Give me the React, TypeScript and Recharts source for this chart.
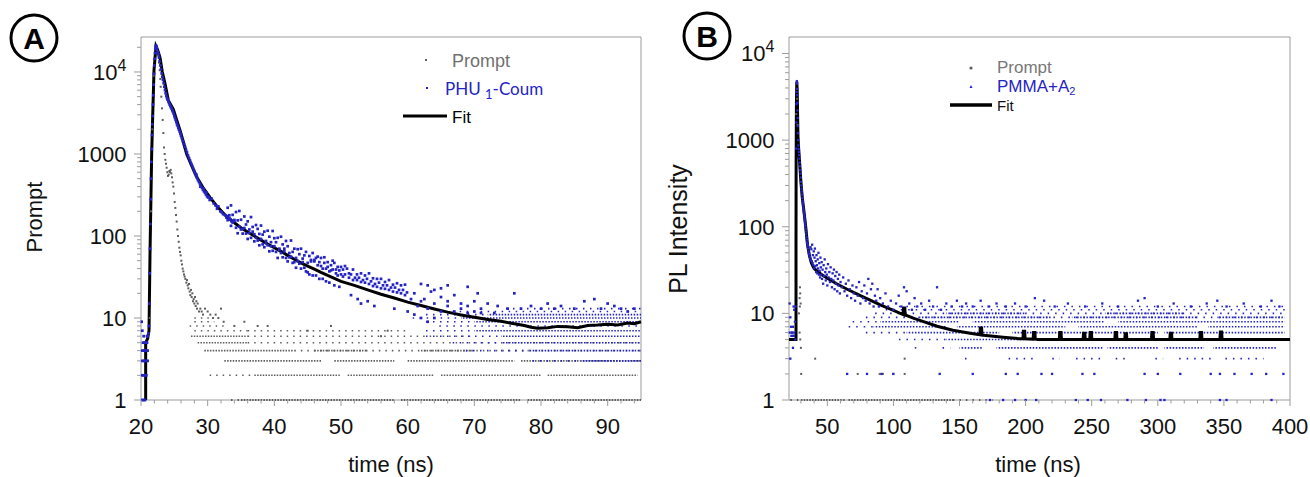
import React from "react";
import { ComposedChart, XAxis, YAxis, Scatter, Line, ReferenceArea } from "recharts";

type Pt = [number, number];
type Row = [number, number, number]; // count level, from time, to time

const FONT = '"Liberation Sans", Arial, sans-serif';
const BLUE = "#2424c4";
const GRAY = "#5e5e5e";
const AXIS = "#9c9c9c";

// log axis ticks (majors get a label)
const logTicks = [
  1, 2, 3, 4, 5, 6, 7, 8, 9, 10, 20, 30, 40, 50, 60, 70, 80, 90, 100, 200, 300, 400, 500, 600, 700, 800, 900,
  1000, 2000, 3000, 4000, 5000, 6000, 7000, 8000, 9000, 10000, 20000,
];
const aTimeTicks = [20, 22, 24, 26, 28, 30, 32, 34, 36, 38, 40, 42, 44, 46, 48, 50, 52, 54, 56, 58, 60, 62, 64, 66, 68, 70, 72, 74, 76, 78, 80, 82, 84, 86, 88, 90, 92, 94];
const bTimeTicks = [30, 40, 50, 60, 70, 80, 90, 100, 110, 120, 130, 140, 150, 160, 170, 180, 190, 200, 210, 220, 230, 240, 250, 260, 270, 280, 290, 300, 310, 320, 330, 340, 350, 360, 370, 380, 390, 400];

// ---------- panel A : PHU1-Coum ----------
const aFit: Pt[] = [
  [20.7, 1], [20.7, 5], [21.0, 5.6], [21.2, 7], [21.35, 60], [21.6, 1000], [21.75, 2800], [21.95, 10500],
  [22.25, 20500], [22.5, 18500], [22.85, 15000], [23.2, 10000], [23.6, 7200], [24.1, 4500], [24.85, 3500],
  [25.35, 2600], [25.85, 1950], [26.35, 1400], [26.85, 1000], [27.6, 720], [28.35, 525], [29.3, 390],
  [30.35, 295], [31.5, 225], [32.85, 172], [34, 145], [35, 126], [36, 112], [37, 100], [38, 89], [39, 80],
  [40, 72], [41, 65], [42, 58], [43, 52], [44, 47], [45, 43], [46, 39.5], [47, 36], [48, 33], [49, 30.5],
  [50, 28], [52, 25], [54, 22], [56, 19.5], [58, 17.5], [60, 15.6], [62, 14.2], [64, 12.9], [66, 11.8],
  [68, 10.9], [70, 10.2], [72, 9.6], [74, 9.1], [76, 8.5], [77.5, 8.1], [78.5, 7.7], [79.5, 7.5], [81, 7.6],
  [82.5, 7.9], [84, 7.8], [85.5, 7.6], [87, 8.1], [88.5, 8.2], [90, 8.4], [91.5, 8.2], [93, 8.7], [94, 8.5], [95, 9],
];

const aCoumPoints: Pt[] = [
  [20.2, 1], [20.4, 1], [20.6, 1], [20.2, 2], [20.4, 2], [20.6, 2], [20.8, 2], [20.2, 3], [20.4, 3], [20.6, 3],
  [20.8, 3], [21.0, 3], [20.2, 4], [20.4, 4], [20.6, 4], [20.8, 4], [21.0, 4], [20.3, 5], [20.5, 5], [20.7, 5],
  [20.9, 5], [20.2, 7], [20.4, 6], [20.1, 9], [20.9, 6], [21.0, 6], [21.1, 6.5], [21.2, 8], [21.25, 15],
  [21.3, 35], [21.35, 70], [21.4, 140], [21.45, 280], [21.5, 500], [21.55, 800], [21.6, 1150], [21.65, 1700],
  [21.7, 2300], [21.75, 2900], [21.8, 4000], [21.85, 5200], [21.9, 7000], [21.95, 9500], [22.0, 12000],
  [22.05, 14500], [22.1, 17000], [22.15, 19000], [22.2, 20500], [22.25, 21000], [22.3, 20500], [22.35, 19800],
  [22.4, 19000], [22.5, 17500], [22.6, 16500], [22.7, 15000], [22.8, 13500], [22.9, 12000], [23.0, 10800],
  [23.1, 9600], [23.2, 8700], [23.3, 8000], [23.4, 7300], [23.5, 6600], [23.6, 6000], [23.7, 5500], [23.8, 5100],
  [23.9, 4800], [24.0, 4600], [24.1, 4400], [24.2, 4200], [24.3, 4000], [24.4, 3850], [24.5, 3700], [24.6, 3550],
  [24.7, 3400], [24.8, 3250], [24.9, 3100], [25.0, 2900], [25.1, 2750], [25.2, 2600], [25.3, 2450], [25.4, 2300],
  [25.5, 2200], [25.6, 2080], [25.7, 1980], [25.8, 1880], [25.9, 1780], [26.0, 1680], [26.15, 1550], [26.3, 1430],
  [26.45, 1320], [26.6, 1220], [26.75, 1120], [26.9, 1040], [27.05, 960], [27.2, 890], [27.35, 830], [27.5, 770],
  [27.65, 720], [27.8, 670], [27.95, 625], [28.1, 585], [28.25, 550], [28.4, 515], [28.55, 480], [28.7, 455],
  [28.85, 430], [29.0, 405], [29.15, 385], [29.3, 365], [29.45, 350], [29.6, 335], [29.75, 320], [29.9, 305],
  [30.05, 295], [30.2, 300], [28.3, 560], [28.9, 400], [29.4, 380], [29.8, 340], [30.3, 275], [30.6, 285],
  [30.9, 250], [31.2, 235], [31.4, 215], [31.6, 230], [31.9, 200], [32.1, 195], [32.3, 185], [32.6, 180],
  [32.8, 168], [33.0, 175], [33.2, 158], [33.4, 160], [33.6, 150], [33.8, 152],
  // noisy cloud 33-60 ns
  [33.0, 221], [33.0, 156], [33.25, 179], [33.25, 166], [33.5, 236], [33.5, 133], [33.75, 181], [33.75, 146],
  [34.0, 152], [34.0, 157], [34.25, 196], [34.25, 126], [34.5, 155], [34.5, 108], [34.75, 202], [34.75, 130],
  [35.0, 158], [35.0, 120], [35.25, 122], [35.25, 107], [35.5, 173], [35.5, 125], [35.75, 138], [35.75, 107],
  [36.0, 151], [36.0, 92], [36.25, 120], [36.25, 109], [36.5, 170], [36.5, 95], [36.75, 129], [36.75, 113],
  [37.0, 105], [37.0, 86], [37.25, 136], [37.25, 95], [37.5, 122], [37.5, 88], [37.75, 106], [37.75, 77],
  [38.0, 134], [38.0, 92], [38.25, 104], [38.25, 79], [38.5, 113], [38.5, 73], [38.75, 82], [38.75, 87],
  [39.0, 116], [39.0, 77], [39.25, 98], [39.25, 65], [39.5, 84], [39.5, 75], [39.75, 115], [39.75, 66],
  [40.0, 94], [40.0, 75], [40.25, 84], [40.25, 64], [40.5, 95], [40.5, 54], [40.75, 70], [40.75, 68],
  [41.0, 98], [41.0, 62], [41.25, 79], [41.25, 55], [41.5, 70], [41.5, 65], [41.75, 87], [41.75, 54],
  [42.0, 75], [42.0, 49], [42.25, 62], [42.25, 55], [42.5, 88], [42.5, 56], [42.75, 64], [42.75, 47],
  [43.0, 70], [43.0, 48], [43.25, 54], [43.25, 41], [43.5, 69], [43.5, 49.5], [43.75, 60], [43.75, 46],
  [44.0, 70], [44.0, 40], [44.25, 53], [44.25, 48], [44.5, 58], [44.5, 41], [44.75, 64], [44.75, 37],
  [45.0, 47], [45.0, 36], [45.25, 57], [45.25, 34], [45.5, 49], [45.5, 51], [45.75, 62], [45.75, 33],
  [46.0, 49], [46.0, 51], [46.25, 54], [46.25, 33], [46.5, 44], [46.5, 56], [46.75, 48], [46.75, 30],
  [47.0, 54], [47.0, 43], [47.25, 40], [47.25, 30], [47.5, 47], [47.5, 55], [47.75, 40], [47.75, 28],
  [48.0, 48], [48.0, 42], [48.25, 37], [48.25, 27], [48.5, 44], [48.5, 38], [48.75, 39], [48.75, 50],
  [49.0, 47], [49.0, 25], [49.25, 39], [49.25, 35], [49.5, 33], [49.5, 42], [49.75, 38], [49.75, 24],
  [50.0, 34], [50.0, 42], [50.3, 39], [50.3, 32], [50.6, 34], [50.6, 43], [50.9, 40], [51.2, 31], [51.2, 35],
  [51.5, 34], [51.8, 39], [51.8, 29], [52.1, 31], [52.4, 34], [52.4, 29], [52.7, 31], [53.0, 35], [53.0, 27.5],
  [53.3, 29], [53.6, 33], [53.6, 27], [53.9, 30], [54.2, 35], [54.2, 26], [54.5, 28], [54.8, 30.5], [54.8, 24.5],
  [55.1, 26], [55.4, 30], [55.4, 24], [55.7, 27], [56.0, 30], [56.0, 23], [56.3, 25], [56.6, 27.5], [56.6, 22.7],
  [56.9, 25], [57.2, 29], [57.2, 22], [57.5, 23.5], [57.8, 25.5], [57.8, 21], [58.1, 23.5], [58.4, 26.5],
  [58.4, 20.5], [58.7, 22], [59.0, 25], [59.0, 20], [59.3, 22], [59.6, 25.5], [59.6, 19], [59.9, 20.5],
  [51.5, 19], [52.5, 17], [53.0, 15], [54.0, 16], [55.0, 14], [58.0, 13], [60.0, 12], [61.0, 11], [62.0, 10],
  [63.0, 9], [64.0, 10], [62.0, 26], [63.0, 25], [64.0, 22], [66.0, 25], [65.0, 23], [69.0, 24], [70.5, 20],
  [61.0, 20], [62.5, 17], [63.5, 21], [65.0, 18], [66.0, 16], [67.0, 19], [68.0, 15], [69.0, 14], [70.0, 16],
  [71.0, 13], [72.0, 15], [73.5, 14], [75.0, 13], [76.0, 20], [77.0, 13], [78.5, 14], [80.0, 13], [81.0, 15],
  [82.0, 13], [83.0, 14], [85.0, 13], [86.5, 16], [88.0, 17], [89.0, 13], [90.0, 15], [91.0, 14], [92.0, 13],
  [93.0, 12], [94.0, 13], [60.5, 17], [61.5, 14], [62.0, 16], [63.0, 13], [64.0, 15], [65.0, 12], [66.0, 14],
  [67.0, 12], [68.0, 13], [69.0, 11.5], [70.0, 12], [71.0, 11.5], [73.0, 11.5],
];

const aCoumRowsDense: Row[] = [
  [11, 72, 95], [10, 68, 95], [9, 70, 95], [7, 70, 95], [6, 74, 95], [5, 74, 95], [4, 78, 95], [3, 86, 95],
];
const aCoumRowsSparse: Row[] = [
  [13, 74, 95], [12, 66, 95], [11, 62, 72], [10, 60, 68], [9, 62, 70], [8, 64, 95], [7, 62, 70], [6, 62, 74],
  [5, 66, 74], [4, 68, 78], [3, 78, 86],
];

const aPromptPoints: Pt[] = [
  [21.3, 10], [21.5, 200], [21.7, 2000], [21.9, 9000], [22.1, 17000], [22.25, 20000], [22.4, 18500],
  [22.5, 17000], [22.6, 15800], [22.7, 13000], [22.8, 10500], [22.9, 8200], [22.95, 6600], [23.05, 5000],
  [23.15, 3600], [23.25, 2600], [23.35, 1800], [23.45, 1200], [23.55, 1000], [23.65, 850], [23.75, 760],
  [23.85, 680], [23.95, 600], [24.05, 540], [24.15, 560], [24.25, 620], [24.35, 600], [24.45, 640], [24.55, 580],
  [24.65, 520], [24.75, 450], [24.85, 400], [24.95, 330], [25.05, 260], [25.15, 220], [25.25, 180], [25.35, 150],
  [25.45, 120], [25.55, 100], [25.65, 85], [25.75, 72], [25.85, 64], [25.95, 58], [26.05, 50], [26.15, 45],
  [26.25, 40], [26.35, 37], [26.45, 34], [26.55, 32], [26.65, 30], [26.8, 27], [26.9, 29], [27.0, 25],
  [27.1, 23], [27.2, 26], [27.3, 21], [27.4, 19], [27.5, 22], [27.6, 18], [27.7, 20], [27.8, 16], [27.9, 17],
  [28.0, 15], [28.1, 18], [28.2, 14], [28.3, 16], [28.4, 13], [28.5, 15], [28.7, 12], [28.9, 13], [29.1, 12],
  [29.3, 11], [29.6, 13], [30.0, 12], [30.4, 11], [30.8, 10], [31.2, 11], [31.6, 10], [32.0, 13], [32.4, 9],
  [34.0, 8], [35.5, 9], [37.5, 8], [39.0, 8], [45, 7], [48.5, 8], [56, 6], [57, 7],
];
const aPromptRowsDense: Row[] = [
  [1, 35, 58], [1, 59, 77], [1, 78, 95], [2, 37, 50], [2, 51, 64], [2, 65, 80], [2, 81, 94.5],
  [3, 32.5, 47], [3, 49, 58], [3, 60, 76], [3, 77, 95], [4, 29.5, 43], [4, 46, 54], [4, 62, 70],
  [5, 28.5, 36], [6, 27.5, 36],
];
const aPromptRowsSparse: Row[] = [
  [1, 33.5, 35], [2, 30.3, 37], [4, 43, 95], [5, 36, 95], [6, 36, 70], [7, 28, 36], [7, 36, 60],
  [8, 27.3, 33], [9, 28, 31], [10, 28, 30.5],
];

// ---------- panel B : PMMA+A2 ----------
const bFit: Pt[] = [
  [21, 5], [26.3, 5], [26.3, 60], [26.4, 600], [26.6, 2500], [26.9, 4700], [27.2, 3800], [27.5, 2000],
  [27.8, 1100], [28.3, 800], [29, 560], [30, 330], [31, 220], [32, 165], [33.5, 105], [35, 62], [36.5, 46],
  [38, 38], [40, 33], [45, 28.5], [50, 25.5], [57, 22], [65, 19], [75, 16], [82, 14.3], [90, 12.5],
  [100, 10.8], [107.3, 9.7], [107.6, 11.5], [108.6, 11.5], [108.9, 9.6], [115, 8.8], [120, 8.3], [133, 7.1],
  [145, 6.4], [158, 5.9], [165.4, 5.65], [165.7, 6.8], [166.7, 6.8], [167, 5.6], [170, 5.55], [183, 5.3],
  [195, 5.1], [198, 5.1], [198.3, 6.2], [199.3, 6.2], [199.6, 5.1], [205.7, 5.05], [206, 6], [207, 6],
  [207.3, 5.05], [209, 5.0], [225.5, 5], [225.8, 6], [226.8, 6], [227.1, 5], [243.5, 5], [243.8, 5.9],
  [244.8, 5.9], [245.1, 5], [248.5, 5], [248.8, 6], [249.8, 6], [250.1, 5], [267.5, 5], [267.8, 6],
  [268.8, 6], [269.1, 5], [275, 5], [275.3, 5.8], [276.3, 5.8], [276.6, 5], [295.2, 5], [295.5, 6],
  [296.5, 6], [296.8, 5], [309.1, 5], [309.4, 5.9], [310.4, 5.9], [310.7, 5], [331.8, 5], [332.1, 6],
  [333.1, 6], [333.4, 5], [347, 5], [347.3, 6.1], [348.3, 6.1], [348.6, 5], [400, 5],
];

const bSamplePoints: Pt[] = [
  [21.5, 13], [22, 9], [22.5, 7], [23, 6], [23.5, 6], [24, 7], [24.5, 12], [25, 11], [25.5, 8], [22, 3],
  [24, 4], [21.5, 6], [25, 6], [22.8, 5.5], [23.8, 5.5], [24.8, 5.5], [25.8, 5], [26, 12],
  [26.45, 800], [26.55, 1600], [26.65, 2600], [26.75, 3600], [26.85, 4500], [26.95, 4800], [27.05, 4500],
  [27.15, 3900], [27.25, 3300], [27.35, 2700], [27.45, 2200], [27.55, 1800], [27.65, 1450], [27.75, 1200],
  [27.9, 1000], [28.1, 870], [28.3, 790], [28.5, 730], [28.7, 670], [28.9, 610], [29.1, 550], [29.3, 500],
  [29.5, 450], [29.7, 410], [29.9, 370], [30.1, 330], [30.3, 300], [30.5, 275], [30.7, 255], [30.9, 235],
  [31.1, 215], [31.3, 200], [31.5, 188], [31.7, 176], [31.9, 165], [32.1, 155], [32.3, 146], [32.5, 138],
  [32.7, 130], [32.9, 122], [33.1, 115], [33.3, 108], [33.5, 102], [33.7, 95], [33.9, 88], [34.1, 82],
  [34.3, 76], [34.5, 71], [34.7, 66], [34.9, 63], [35.2, 60], [35.5, 56], [35.8, 52], [36.1, 49], [36.4, 47],
  [36.7, 45], [37.0, 43], [37.3, 58], [37.6, 41], [37.9, 55], [38.2, 40], [38.5, 62], [38.8, 38],
  [39.1, 47], [39.4, 36], [39.7, 52], [40.0, 33], [40.3, 44], [40.6, 56], [40.9, 35], [41.2, 40], [41.5, 30],
  [41.8, 47], [42.1, 36], [42.4, 29], [42.7, 42], [43.0, 33], [43.3, 50], [43.6, 28], [43.9, 38], [44.2, 31],
  [44.5, 26], [44.8, 44], [45.1, 34], [45.4, 28], [45.7, 39], [46.0, 25], [46.4, 32], [46.8, 22], [47.2, 36],
  [47.6, 27], [48.0, 42], [48.4, 30], [48.8, 24], [49.2, 33], [49.6, 28], [50.0, 21], [50.5, 37], [51.0, 26],
  [51.5, 30], [52.0, 23], [52.5, 34], [53.0, 25], [53.5, 20], [54.0, 29], [54.5, 24], [55.0, 32], [55.5, 19],
  [56.0, 27], [56.5, 22], [57.0, 30], [57.5, 18], [58.0, 25], [58.5, 21], [59.0, 28], [59.5, 17], [60.0, 23],
  [61, 20], [62, 26], [63, 18], [64, 22], [65, 16], [66, 24], [67, 19], [68, 15], [69, 21], [70, 17], [71, 14],
  [72, 20], [73, 16], [74, 23], [75, 13], [76, 18], [77, 15], [78, 21], [79, 14], [80, 17], [81, 25], [82, 13],
  [83, 19], [84, 22], [85, 12], [86, 16], [87, 14], [88, 19], [89, 12], [90, 15], [92, 13], [94, 17], [96, 12],
  [98, 14], [100, 11], [102, 13], [104, 16], [106, 12], [108, 20], [110, 18], [112, 13], [114, 11], [116, 15],
  [118, 12], [121, 13], [124, 11], [127, 14], [130, 12], [133, 20], [136, 11], [140, 13], [144, 12], [148, 14],
  [152, 12], [155, 13], [160, 12], [166, 14], [172, 12], [178, 13], [185, 12], [192, 13], [200, 12], [207, 15],
  [214, 14], [222, 12], [232, 13], [245, 12], [258, 13], [270, 12], [285, 14], [290, 15], [300, 12], [312, 13],
  [325, 12], [337, 13], [345, 14], [352, 12], [365, 13], [378, 12], [386, 14], [392, 12],
  [65, 2], [80, 2], [91, 2], [100, 2], [135, 2], [160, 2], [185, 2], [194, 2], [212, 2], [220, 2], [243, 2],
  [252, 2], [290, 2], [300, 2], [317, 2], [340, 2], [347, 2], [358, 2], [371, 2], [382, 2], [395, 2],
  [173, 1], [183, 1], [192, 1], [200, 1], [208, 1], [238, 1], [247, 1], [257, 1], [277, 1], [291, 1],
  [302, 1], [305, 1], [347, 1], [352, 1], [386, 1],
];
const bSampleRowsDense: Row[] = [
  [8, 90, 150], [8, 160, 260], [8, 270, 396], [7, 85, 140], [7, 148, 230], [7, 240, 330], [7, 338, 396],
  [6, 110, 180], [6, 190, 300], [6, 305, 396], [5, 140, 396], [4, 150, 168], [4, 178, 258], [4, 262, 300],
  [4, 305, 335], [4, 342, 390], [9, 120, 220], [9, 235, 330], [9, 345, 396], [10, 140, 200], [10, 260, 320],
];
const bSampleRowsSparse: Row[] = [
  [12, 100, 396], [11, 90, 396], [10, 82, 396], [9, 75, 396], [8, 65, 90], [7, 62, 85], [6, 75, 110],
  [5, 100, 140], [4, 112, 120], [4, 133, 143], [3, 150, 158], [3, 167, 171], [3, 183, 206], [3, 216, 226],
  [3, 234, 259], [3, 264, 279], [3, 294, 304], [3, 312, 342], [3, 347, 380],
];

const bPromptPoints: Pt[] = [
  [26.5, 2000], [26.8, 4600], [27.1, 3000], [27.5, 1500], [28.5, 10], [29, 15], [29.2, 12], [29.5, 17],
  [29.8, 13], [29.3, 20], [29, 6], [29.5, 5], [30, 4], [30.2, 2], [40.8, 3], [73, 2], [89.6, 2], [92, 2],
  [99.7, 2], [108.5, 2], [108.5, 3],
];
const bPromptRowsDense: Row[] = [[1, 30, 62], [1, 66, 145]];
const bPromptRowsSparse: Row[] = [[1, 22, 30], [1, 62, 66], [1, 145, 175]];

const toXY = (pts: Pt[]) => pts.map(([x, y]) => ({ x, y }));

const square = (fill: string, s: number) => (p: any) =>
  p.cx == null ? <g /> : <rect x={p.cx - s / 2} y={p.cy - s / 2} width={s} height={s} fill={fill} />;

function rowLines(rows: Row[], color: string, dash: string, offset: number, key: string) {
  return rows.map(([lvl, from, to], i) => (
    <Line
      key={key + i}
      data={[{ x: from, y: lvl }, { x: to, y: lvl }]}
      dataKey="y"
      type="linear"
      stroke={color}
      strokeWidth={lvl === 1 ? 2.2 : 1.6}
      strokeDasharray={dash}
      strokeDashoffset={offset}
      dot={false}
      activeDot={false}
      isAnimationActive={false}
    />
  ));
}

const YTick = (props: any) => {
  const { x, y, payload } = props;
  const v = payload.value as number;
  const lg = Math.log10(v);
  const major = Math.abs(lg - Math.round(lg)) < 1e-9;
  return (
    <g>
      <line x1={x} x2={x - (major ? 7 : 4)} y1={y} y2={y} stroke={AXIS} strokeWidth={1} />
      {major && (
        <text x={x - 14.5} y={y + 8} textAnchor="end" fontSize={22} fontFamily={FONT} fill="#111">
          {v >= 10000 ? (
            <>
              10<tspan dy={-9} fontSize={16}>4</tspan>
            </>
          ) : (
            v
          )}
        </text>
      )}
    </g>
  );
};

const makeXTick = (step: number) => (props: any) => {
  const { x, y, payload } = props;
  const v = payload.value as number;
  const major = v % step === 0;
  return (
    <g>
      <line x1={x} x2={x} y1={y} y2={y + (major ? 6 : 3.5)} stroke={AXIS} strokeWidth={1} />
      {major && (
        <text x={x} y={y + 33.5} textAnchor="middle" fontSize={22} fontFamily={FONT} fill="#111">
          {v}
        </text>
      )}
    </g>
  );
};

function DecayPanel(props: {
  width: number;
  margin: { top: number; right: number; bottom: number; left: number };
  xDomain: [number, number];
  yMax: number;
  xTicks: number[];
  xStep: number;
  fit: Pt[];
  sample: Pt[];
  prompt: Pt[];
  rows: React.ReactNode[];
  sampleSize: number;
}) {
  const { width, margin, xDomain, yMax, xTicks, xStep } = props;
  return (
    <ComposedChart width={width} height={477} margin={margin}>
      <XAxis
        type="number"
        dataKey="x"
        domain={xDomain}
        ticks={xTicks}
        interval={0}
        height={30}
        tickSize={0}
        tickMargin={0}
        tickLine={false}
        axisLine={false}
        tick={makeXTick(xStep)}
      />
      <YAxis
        type="number"
        dataKey="y"
        scale="log"
        domain={[1, yMax]}
        ticks={logTicks.filter((t) => t <= yMax)}
        interval={0}
        width={60}
        tickSize={0}
        tickMargin={0}
        tickLine={false}
        axisLine={false}
        tick={YTick}
      />
      <ReferenceArea x1={xDomain[0]} x2={xDomain[1]} y1={1} y2={yMax} fill="none" stroke={AXIS} strokeWidth={1} ifOverflow="visible" />
      {props.rows}
      <Line
        data={toXY(props.fit)}
        dataKey="y"
        type="linear"
        stroke="#000"
        strokeWidth={3}
        dot={false}
        activeDot={false}
        isAnimationActive={false}
      />
      <Scatter data={toXY(props.prompt)} dataKey="y" shape={square(GRAY, 2)} isAnimationActive={false} />
      <Scatter data={toXY(props.sample)} dataKey="y" shape={square(BLUE, props.sampleSize)} isAnimationActive={false} />
    </ComposedChart>
  );
}

export default function App() {
  const aRows = [
    ...rowLines(aPromptRowsDense, GRAY, "1.5 1.3", 0, "apd"),
    ...rowLines(aPromptRowsSparse, GRAY, "1.5 5", 0, "aps"),
    ...rowLines(aCoumRowsDense, BLUE, "1.5 1.5", 1, "acd"),
    ...rowLines(aCoumRowsSparse, BLUE, "1.5 5.5", 2, "acs"),
  ];
  const bRows = [
    ...rowLines(bPromptRowsDense, GRAY, "1.5 1.3", 0, "bpd"),
    ...rowLines(bPromptRowsSparse, GRAY, "1.5 5", 0, "bps"),
    ...rowLines(bSampleRowsDense, BLUE, "1.5 1.6", 1, "bsd"),
    ...rowLines(bSampleRowsSparse, BLUE, "1.5 6", 2, "bss"),
  ];
  return (
    <div style={{ position: "absolute", left: 0, top: 0, width: 1310, height: 477, background: "#fff", fontFamily: FONT }}>
      <div style={{ position: "absolute", left: 0, top: 0 }}>
        <DecayPanel
          width={660}
          margin={{ top: 37, right: 19, bottom: 47, left: 81 }}
          xDomain={[20, 95]}
          yMax={26700}
          xTicks={aTimeTicks}
          xStep={10}
          fit={aFit}
          sample={aCoumPoints}
          prompt={aPromptPoints}
          rows={aRows}
          sampleSize={2.7}
        />
      </div>
      <div style={{ position: "absolute", left: 660, top: 0 }}>
        <DecayPanel
          width={650}
          margin={{ top: 37, right: 20, bottom: 47, left: 69 }}
          xDomain={[21, 400]}
          yMax={15500}
          xTicks={bTimeTicks}
          xStep={50}
          fit={bFit}
          sample={bSamplePoints}
          prompt={bPromptPoints}
          rows={bRows}
          sampleSize={2.3}
        />
      </div>
      <svg width={1310} height={477} style={{ position: "absolute", left: 0, top: 0, pointerEvents: "none" }}>
        {/* panel badges */}
        <circle cx={34} cy={38} r={23} fill="none" stroke="#000" strokeWidth={3} />
        <text x={34} y={49} textAnchor="middle" fontSize={30} fontWeight="bold" fontFamily={FONT}>A</text>
        <circle cx={707} cy={36} r={23} fill="none" stroke="#000" strokeWidth={3} />
        <text x={707} y={47} textAnchor="middle" fontSize={30} fontWeight="bold" fontFamily={FONT}>B</text>

        {/* axis titles */}
        <text transform="translate(42,217) rotate(-90)" textAnchor="middle" fontSize={22} fontFamily={FONT} fill="#111">Prompt</text>
        <text x={391} y={472} textAnchor="middle" fontSize={22} fontFamily={FONT} fill="#111">time (ns)</text>
        <text transform="translate(687,229) rotate(-90)" textAnchor="middle" fontSize={25} fontFamily={FONT} fill="#111">PL Intensity</text>
        <text x={1038} y={472} textAnchor="middle" fontSize={22} fontFamily={FONT} fill="#111">time (ns)</text>

        {/* legend A */}
        <rect x={425} y={59} width={2} height={2} fill={GRAY} />
        <text x={452} y={66.5} fontSize={18} fontFamily={FONT} fill="#707070">Prompt</text>
        <rect x={426} y={87} width={2} height={2} fill={BLUE} />
        <text x={445} y={95} fontSize={17} fontFamily="Lato, sans-serif" fill={BLUE}>
          PHU <tspan dy={4} fontSize={13}>1</tspan><tspan dy={-4}>-Coum</tspan>
        </text>
        <line x1={403} x2={447} y1={116} y2={116} stroke="#000" strokeWidth={3} />
        <text x={452} y={123} fontSize={17} fontFamily={FONT} fill="#000">Fit</text>

        {/* legend B */}
        <circle cx={971} cy={68} r={1.6} fill={GRAY} />
        <text x={997} y={73} fontSize={17} fontFamily={FONT} fill="#777">Prompt</text>
        <path d="M969.5,88 L971,85 L972.5,88 Z" fill={BLUE} />
        <text x={997} y={92} fontSize={17} fontFamily={FONT} fill={BLUE}>
          PMMA+A<tspan dy={3} fontSize={11}>2</tspan>
        </text>
        <line x1={950} x2={992} y1={105} y2={105} stroke="#000" strokeWidth={3.5} />
        <text x={997} y={111} fontSize={15} fontFamily={FONT} fill="#111">Fit</text>
      </svg>
    </div>
  );
}
